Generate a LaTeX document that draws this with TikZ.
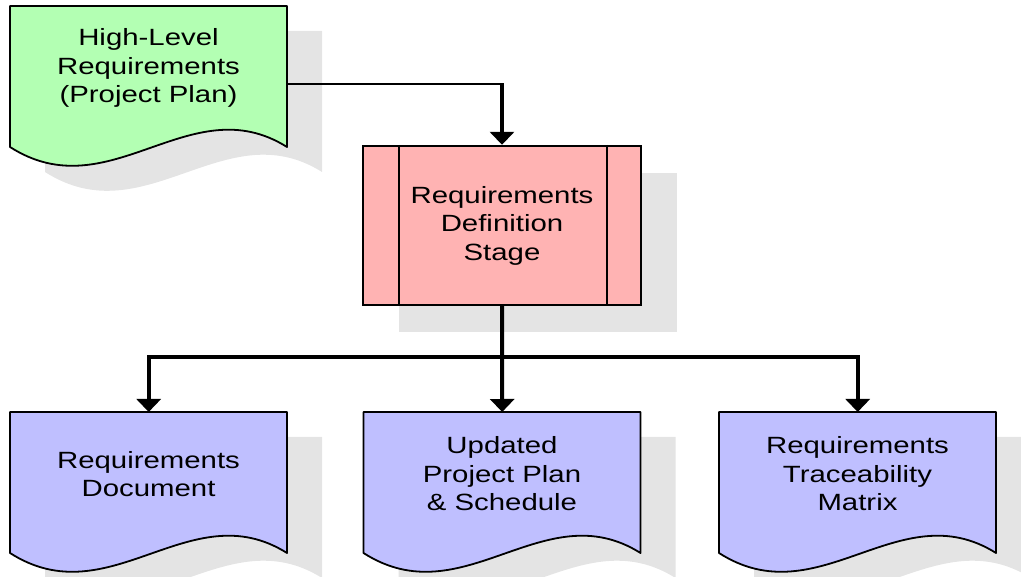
\documentclass[tikz,border=0pt]{standalone}
\usepackage{fontspec}
\setmainfont[FakeStretch=1.25]{Liberation Sans}
\usetikzlibrary{arrows.meta,positioning}
\definecolor{docgreen}{RGB}{179,255,179}
\definecolor{docblue}{RGB}{191,191,255}
\definecolor{stagepink}{RGB}{255,179,179}
\definecolor{shadowgray}{RGB}{228,228,228}
\tikzset{
  sheet/.style={line width=1.8pt, line join=round},
  doctext/.style={align=center, inner sep=0pt, font=\fontsize{23.5}{28.5}\selectfont},
  stagebox/.style={draw, line width=2.4pt, fill=stagepink, minimum width=278pt, minimum height=159pt, doctext},
  thinlink/.style={line width=1.6pt},
  flow/.style={line width=4pt, -{Triangle[width=24pt,length=13pt]}},
  bus/.style={line width=3.5pt}
}
% outline of a document sheet, top left corner at (0,0)
\newcommand{\sheetpath}{(0,0) -- (277,0) -- (277,141) .. controls (180,80) and (100,205) .. (0,141) -- cycle}
% document: x, y, colour, name, text
\newcommand{\docshape}[5]{%
  \begin{scope}[shift={(#1,#2)}]
    \fill[shadowgray, shift={(35,25)}] \sheetpath;
    \draw[sheet, fill=#3] \sheetpath;
    \node[inner sep=0pt, minimum width=277pt, minimum height=141pt, anchor=north west] (#4) at (0,0) {};
    \node[doctext] (#4-text) at (138.5,62) {#5};
  \end{scope}}
\begin{document}
\begin{tikzpicture}[x=1pt, y=-1pt]
  \useasboundingbox (0,0) rectangle (1021,577);
  % Input
  \docshape{10}{6}{docgreen}{hlr}{High-Level\\Requirements\\(Project Plan)}
  % Stage
  \fill[shadowgray] (399,173) rectangle (677,332);
  \node[stagebox] (rds) at (502,225.5) {Requirements\\Definition\\Stage};
  \draw[line width=2pt] ([xshift=37pt]rds.north west) -- ([xshift=37pt]rds.south west);
  \draw[line width=2pt] ([xshift=-35pt]rds.north east) -- ([xshift=-35pt]rds.south east);
  % Outputs
  \docshape{10}{412}{docblue}{rdoc}{Requirements\\Document}
  \docshape{363.5}{412}{docblue}{upp}{Updated\\Project Plan\\\& Schedule}
  \docshape{719}{412}{docblue}{rtm}{Requirements\\Traceability\\Matrix}
  % Connectors
  \draw[thinlink] ([yshift=-7.5pt]hlr.east) -- ([yshift=-7.5pt]hlr.east -| rds.north) coordinate (bend);
  \draw[flow] ([yshift=0.8pt]bend) -- (rds.north);
  \coordinate (split) at (502,357);
  \draw[flow] (rds.south) -- (upp.north);
  \draw[bus] (split -| rdoc.north) -- (split -| rtm.north);
  \draw[flow] ([yshift=1.75pt]split -| rdoc.north) -- (rdoc.north);
  \draw[flow] ([yshift=1.75pt]split -| rtm.north) -- (rtm.north);
\end{tikzpicture}
\end{document}
